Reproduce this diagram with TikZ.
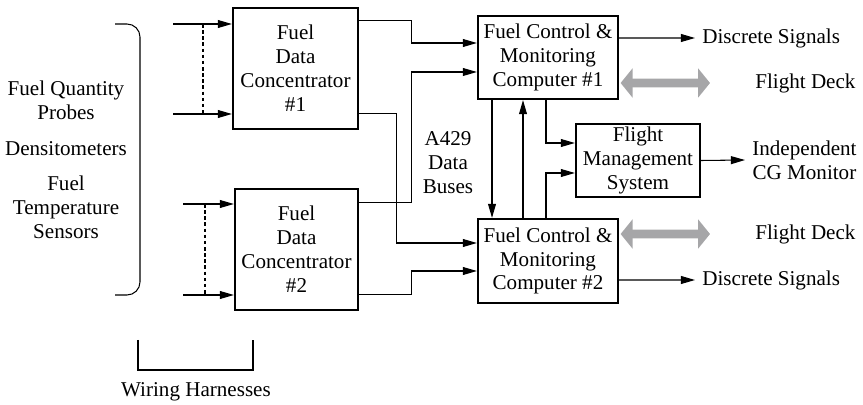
\documentclass[tikz,border=0pt]{standalone}
\usepackage{fontspec}
\setmainfont{Liberation Serif}
\usetikzlibrary{arrows.meta}
\definecolor{deckGray}{RGB}{166,166,168}

\begin{document}
\begin{tikzpicture}[x=0.02cm, y=-0.02cm,
        every node/.style={font=\fontsize{12}{13.6}\selectfont, align=center},
        blk/.style={draw, line width=1.3pt, inner sep=0pt},
        link/.style={line width=0.6pt},
        wire/.style={link, -{Triangle[length=8pt,width=4.5pt]}},
        deck/.style={deckGray, line width=5.1pt, {Triangle[length=6.8pt,width=16.4pt]}-{Triangle[length=6.8pt,width=16.4pt]}}]
        \useasboundingbox (0,0) rectangle (863,405);

        % boxes
        \node[blk, minimum width=2.5cm, minimum height=2.42cm] (fdc1) at (295.5,68.5) {Fuel\\Data\\Concentrator\\\#1};
        \node[blk, minimum width=2.46cm, minimum height=2.42cm] (fdc2) at (296.5,249.5) {Fuel\\Data\\Concentrator\\\#2};
        \node[blk, minimum width=2.8cm, minimum height=1.66cm] (fcmc1) at (548,57.5) {Fuel Control \&\\Monitoring\\Computer \#1};
        \node[blk, minimum width=2.8cm, minimum height=1.68cm] (fcmc2) at (548,261) {Fuel Control \&\\Monitoring\\Computer \#2};
        \node[blk, minimum width=2.48cm, minimum height=1.46cm] (fms) at (638,160.5) {Flight\\Management\\System};

        % labels
        \node (probes) at (66,100) {Fuel Quantity\\Probes};
        \node (dens) at (66,149) {Densitometers};
        \node (temp) at (66,207) {Fuel\\Temperature\\Sensors};
        \node (harness) at (196,392) {Wiring Harnesses};
        \node (buses) at (448,163) {A429\\Data\\Buses};
        \node[anchor=west, inner sep=4pt] (ds1) at (695,38) {Discrete Signals};
        \node[anchor=west, inner sep=4pt] (ds2) at (695,280) {Discrete Signals};
        \node[anchor=west, inner sep=4pt] (cg) at (745,160) {Independent\\CG Monitor};
        \node[anchor=west, inner sep=0pt] (fd1) at (755,83) {Flight Deck};
        \node[anchor=west, inner sep=0pt] (fd2) at (755,234) {Flight Deck};

        % brackets
        \draw[link, rounded corners=0.26cm] (115,24) -- (140,24) -- (140,295) -- (115,295);
        \draw[link] (138,340) -- (138,370) -- (253,370) -- (253,340);

        % harness inputs
        \coordinate (h1a) at (173,24);
        \coordinate (h1b) at (173,114);
        \coordinate (h2a) at (183,204);
        \coordinate (h2b) at (183,295);
        \draw[wire] (h1a) -- (h1a -| fdc1.west);
        \draw[wire] (h1b) -- (h1b -| fdc1.west);
        \draw[wire] (h2a) -- (h2a -| fdc2.west);
        \draw[wire] (h2b) -- (h2b -| fdc2.west);
        \draw[line width=1pt, dash pattern=on 2pt off 1.5pt] (203,24) -- (203,114);
        \draw[line width=1pt, dash pattern=on 2pt off 1.5pt] (205,204) -- (205,295);

        % data buses
        \draw[wire] ([yshift=-0.28cm]fdc1.north east) -- ++(52,0) |- ([yshift=0.29cm]fcmc1.west);
        \draw[wire] ([yshift=0.34cm]fdc1.south east) -- ++(37,0) |- ([yshift=0.36cm]fcmc2.west);
        \draw[wire] ([yshift=-0.3cm]fdc2.north east) -- ++(52,0) |- ([yshift=-0.29cm]fcmc1.west);
        \draw[wire] ([yshift=0.34cm]fdc2.south east) -- ++(52,0) |- ([yshift=-0.2cm]fcmc2.west);
        \draw[wire] ([xshift=-1.12cm]fcmc1.south) -- ([xshift=-1.12cm]fcmc2.north);
        \draw[wire] ([xshift=-0.5cm]fcmc2.north) -- ([xshift=-0.5cm]fcmc1.south);
        \draw[wire] ([xshift=-0.04cm]fcmc1.south) |- ([yshift=0.35cm]fms.west);
        \draw[wire] ([xshift=-0.04cm]fcmc2.north) |- ([yshift=-0.25cm]fms.west);

        % outputs
        \draw[wire] ([yshift=0.39cm]fcmc1.east) -- (ds1.west);
        \draw[wire] ([yshift=-0.38cm]fcmc2.east) -- (ds2.west);
        \draw[wire] (fms.east) -- (cg.west);
        \draw[deck] ([xshift=0.03cm, yshift=-0.51cm]fcmc1.east) -- ([xshift=-0.9cm]fd1.west);
        \draw[deck] ([xshift=0.03cm, yshift=0.54cm]fcmc2.east) -- ([xshift=-0.9cm]fd2.west);
      \end{tikzpicture}
\end{document}
